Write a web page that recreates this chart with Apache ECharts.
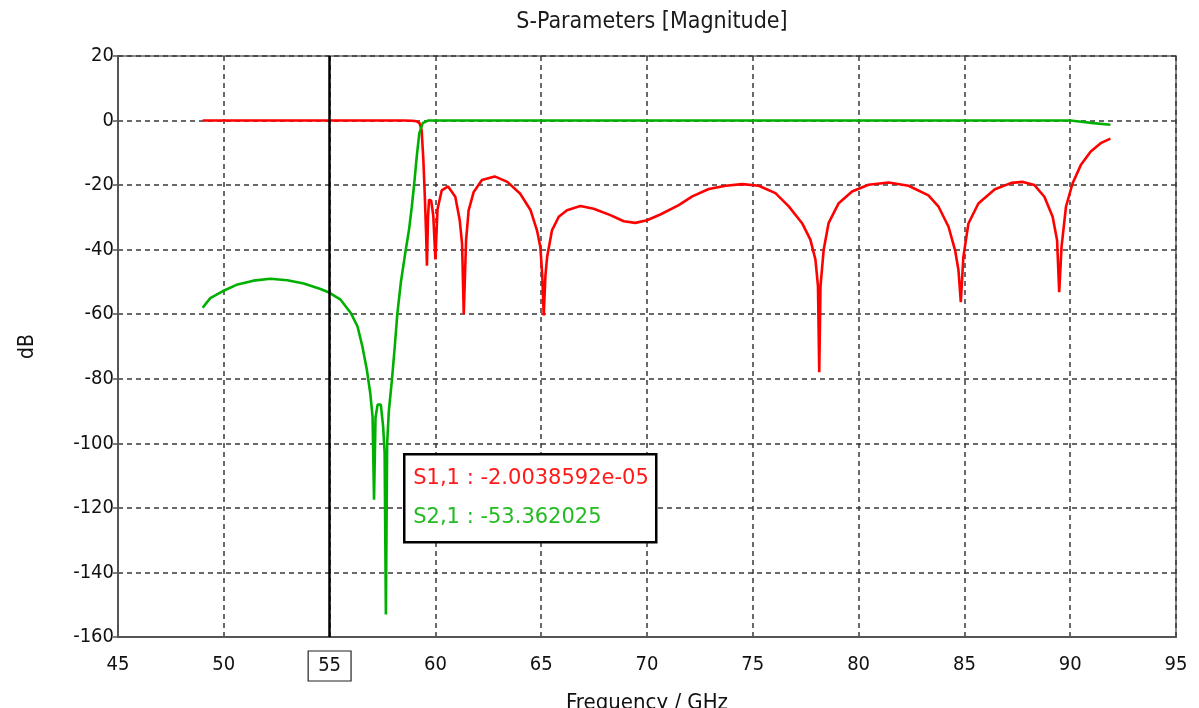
<!DOCTYPE html>
<html>
<head>
<meta charset="utf-8">
<script src="https://cdn.jsdelivr.net/npm/echarts@6/dist/echarts.min.js"></script>
<style>
html,body{margin:0;padding:0;background:#fff;overflow:hidden;}
#chart{width:1199px;height:708px;}
</style>
</head>
<body>
<div id="chart"></div>
<script>
// ---- data ----
const titleText = 'S-Parameters [Magnitude]';
const xName = 'Frequency / GHz';
const yName = 'dB';
const markerFreq = 55;
const markerS11 = 'S1,1 : -2.0038592e-05';
const markerS21 = 'S2,1 : -53.362025';

const s11Freq = [49.0,52,55,58.5,58.9,59.1,59.25,59.35,59.43,59.5,59.56,59.6,59.65,59.7,59.8,59.9,60.0,60.1,60.3,60.6,60.94,61.15,61.26,61.34,61.45,61.57,61.81,62.2,62.8,63.4,64.0,64.5,64.8,64.96,65.05,65.12,65.2,65.28,65.51,65.83,66.22,66.85,67.48,68.27,68.9,69.45,70.0,70.63,71.5,72.14,72.92,73.71,74.5,75.28,76.07,76.7,77.33,77.72,77.96,78.08,78.14,78.2,78.35,78.58,79.06,79.69,80.47,81.42,82.36,83.3,83.78,84.25,84.56,84.72,84.83,84.95,85.19,85.66,86.44,87.22,87.77,88.31,88.78,89.17,89.38,89.48,89.59,89.8,90.11,90.5,90.97,91.44,91.9];
const s11dB   = [0,0,0,0,-0.05,-0.2,-0.8,-3.0,-12,-23.5,-35,-45,-30,-24.5,-24.8,-29.5,-43,-27.5,-21.6,-20.4,-23.6,-30.9,-38.1,-60,-37.1,-27.8,-22.1,-18.4,-17.3,-19.0,-22.6,-27.8,-34,-39.2,-48,-60.4,-48,-42.3,-34,-29.8,-27.8,-26.5,-27.3,-29.3,-31.2,-31.7,-30.9,-29.1,-26.2,-23.5,-21.2,-20.2,-19.7,-20.2,-22.5,-26.6,-31.8,-36.9,-43.1,-51.3,-78,-51.3,-40,-31.8,-25.6,-22,-19.9,-19.2,-20.2,-23.2,-26.7,-32.9,-40.2,-46.4,-56.3,-42.3,-31.9,-25.7,-21.3,-19.3,-19.0,-20,-23.6,-29.8,-37.1,-53.2,-39.2,-26.7,-19.5,-13.8,-9.6,-7.0,-5.6];

const s21Freq = [49.0,49.36,49.94,50.6,51.4,52.2,53.0,53.78,54.57,55.0,55.52,56.0,56.32,56.55,56.76,56.92,57.03,57.1,57.17,57.27,57.42,57.53,57.6,57.66,57.72,57.8,57.95,58.08,58.2,58.37,58.6,58.75,58.88,59.0,59.12,59.24,59.4,59.65,60,65,70,75,80,85,90.0,90.42,91.1,91.9];
const s21dB   = [-58.0,-55,-52.9,-50.9,-49.6,-49.0,-49.5,-50.5,-52.2,-53.36,-55.5,-59.6,-63.8,-70,-77.2,-84.4,-91.7,-117.5,-92,-88,-88,-94.8,-103,-153,-100,-90,-80,-70,-60,-50,-40,-34,-27,-19.5,-11,-4,-0.8,0,0,0,0,0,0,0,0,-0.3,-0.8,-1.3];

const xTicks = {min:45, max:95, step:5};
const yTicks = {min:-160, max:20, step:20};

// ---- chart ----
const pairs = (xs, ys) => xs.map((x, i) => [x, ys[i]]);
const FONT = "'DejaVu Sans Condensed','Liberation Sans Narrow','DejaVu Sans',sans-serif";
const chart = echarts.init(document.getElementById('chart'), null, {renderer:'canvas'});

const gridLine = {show:true, lineStyle:{color:'#3a3a3a', width:1.5, type:[5,4]}};

chart.setOption({
  animation:false,
  backgroundColor:'#fff',
  title:{
    text:titleText, left:647, top:6, textAlign:'center',
    textStyle:{fontFamily:FONT, fontSize:23, fontWeight:'normal', color:'#1a1a1a'}
  },
  grid:{left:118, top:56, width:1058, height:581, show:true, borderColor:'#666', borderWidth:1.5,
        containLabel:false, outerBoundsMode:'none'},
  xAxis:{
    type:'value', min:xTicks.min, max:xTicks.max, interval:xTicks.step,
    name:xName, nameLocation:'middle', nameGap:55,
    nameTextStyle:{fontFamily:FONT, fontSize:22, color:'#111'},
    axisLine:{show:true, onZero:false, lineStyle:{color:'#555', width:2}},
    axisTick:{show:false},
    splitLine:gridLine,
    axisLabel:{
      margin:14, color:'#111', fontFamily:FONT, fontSize:20,
      formatter:v => v === markerFreq ? '{box|' + v + '}' : '{n|' + v + '}',
      rich:{
        n:{fontFamily:FONT, fontSize:20, color:'#111', padding:[4,0,4,0]},
        box:{fontFamily:FONT, fontSize:20, color:'#111', borderColor:'#222', borderWidth:1.2, padding:[5,10,5,10]}
      }
    }
  },
  yAxis:{
    type:'value', min:yTicks.min, max:yTicks.max, interval:yTicks.step,
    name:yName, nameLocation:'middle', nameGap:80, nameRotate:90,
    nameTextStyle:{fontFamily:FONT, fontSize:21, color:'#111'},
    axisLine:{show:true, onZero:false, lineStyle:{color:'#555', width:2}},
    axisTick:{show:true, length:5, lineStyle:{color:'#555', width:1.5}},
    splitLine:gridLine,
    axisLabel:{margin:4, color:'#111', fontFamily:FONT, fontSize:20}
  },
  series:[
    {
      name:'S1,1', type:'line', data:pairs(s11Freq, s11dB), showSymbol:false, symbol:'none',
      lineStyle:{color:'#ff0000', width:2.6}, z:3,
      markLine:{
        silent:true, symbol:['none','none'], label:{show:false},
        lineStyle:{color:'#000', width:2.5, type:'solid'},
        data:[{xAxis:markerFreq}]
      }
    },
    {
      name:'S2,1', type:'line', data:pairs(s21Freq, s21dB), showSymbol:false, symbol:'none',
      lineStyle:{color:'#00b000', width:2.6}, z:4
    }
  ],
  graphic:[
    {
      type:'group', left:403, top:453, z:100, zlevel:1,
      children:[
        {type:'rect', z:100, zlevel:1, shape:{x:0, y:0, width:252, height:88}, style:{fill:'#fff', stroke:'#000', lineWidth:2.5}},
        {type:'text', z:101, zlevel:1, x:9, y:24, style:{text:markerS11, fill:'#ff1a1a', font:"21px 'DejaVu Sans',sans-serif", textVerticalAlign:'middle'}},
        {type:'text', z:101, zlevel:1, x:9, y:63, style:{text:markerS21, fill:'#22bb22', font:"21px 'DejaVu Sans',sans-serif", textVerticalAlign:'middle'}}
      ]
    }
  ]
});
</script>
</body>
</html>
